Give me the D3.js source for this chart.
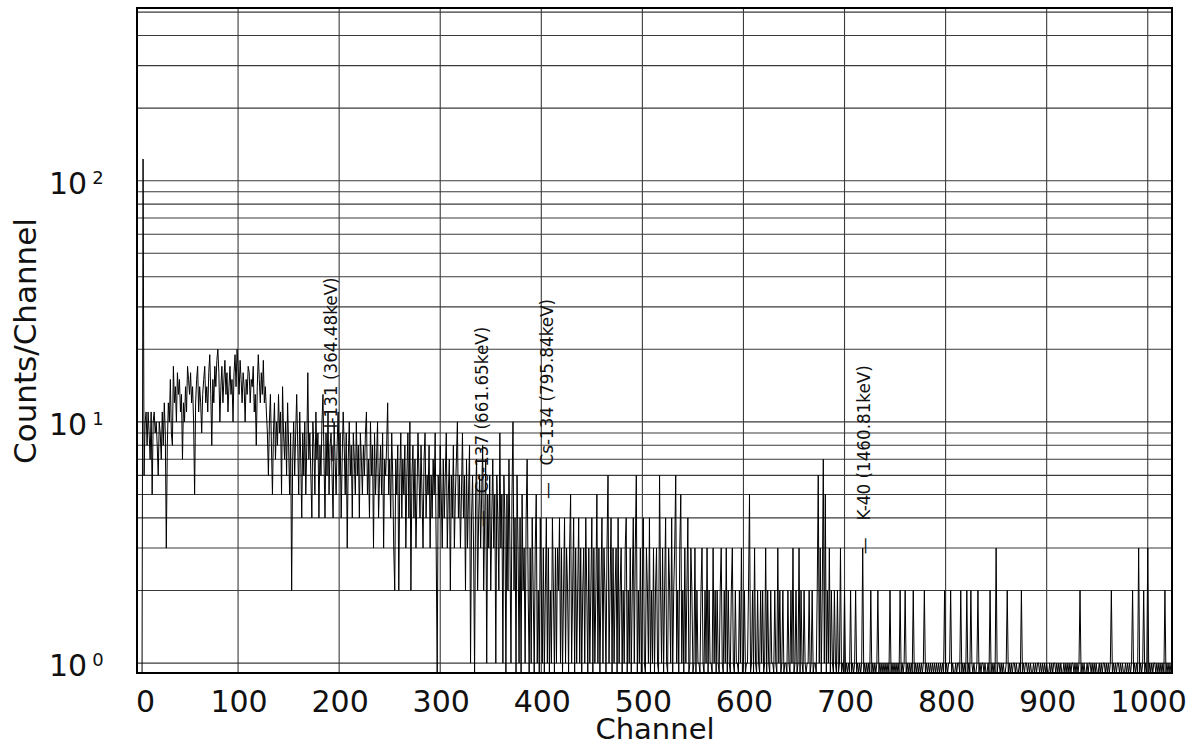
<!DOCTYPE html>
<html>
<head>
<meta charset="utf-8">
<script src="https://cdn.jsdelivr.net/npm/d3@7"></script>
<style>
  html, body { margin: 0; padding: 0; background: #fff; }
  svg { display: block; }
  text { font-family: "DejaVu Sans", Verdana, sans-serif; fill: #111; }
</style>
</head>
<body>
<svg id="chart" width="1200" height="746"></svg>
<script>
// Gamma spectrum: counts recorded in each of 1024 MCA channels.
const channelCounts = [
  0,0,0,0,0,0,123,6,10,11,8,11,9,7,11,5,10,11,9,10,8,6,10,9,7,11,8,12,9,3,8,12,
  10,15,9,8,17,12,14,10,16,13,15,11,13,7,12,10,14,11,17,15,13,16,12,14,10,5,12,15,17,11,14,12,
  9,13,15,17,12,14,11,16,19,13,8,15,12,17,14,18,20,16,10,14,17,12,15,18,13,16,11,14,17,13,15,10,
  16,19,14,20,17,13,18,15,12,16,14,10,15,13,17,16,12,15,14,17,11,13,8,14,19,15,12,16,13,18,12,14,
  11,9,6,10,13,8,5,9,12,7,10,8,13,9,11,5,14,9,7,10,6,12,8,5,9,2,7,10,6,9,13,8,
  5,11,7,4,9,6,10,5,8,16,7,9,6,4,10,8,5,11,7,9,4,8,6,10,13,7,4,9,6,11,5,8,
  9,6,4,10,7,5,8,11,6,9,4,7,11,8,5,9,3,7,10,6,8,4,9,7,5,10,6,8,4,9,7,5,
  8,6,9,11,5,7,4,10,6,8,3,9,5,7,10,4,6,8,5,9,3,7,6,8,12,5,7,4,9,6,3,2,
  7,5,8,2,6,9,4,7,5,8,3,6,9,4,10,2,6,8,4,7,3,5,9,6,4,8,5,3,7,9,4,6,
  5,8,3,6,4,7,5,9,3,0,6,4,8,5,3,7,4,6,9,3,5,7,2,6,4,8,3,5,7,10,4,6,
  3,5,9,4,6,2,7,3,5,8,1,4,6,3,0,5,7,2,4,6,3,5,8,2,4,7,1,5,3,6,2,4,
  7,3,5,1,6,4,2,9,3,5,1,6,4,0,5,2,7,3,1,5,10,2,4,0,6,3,1,4,0,5,2,3,
  1,4,7,2,0,3,1,4,2,0,3,5,1,2,0,4,2,1,3,0,2,4,1,3,0,2,1,4,2,0,3,1,
  3,2,4,1,3,0,2,4,1,3,2,0,3,5,1,2,4,0,3,1,2,4,1,3,0,2,3,1,4,2,0,3,
  1,2,4,0,3,1,2,5,1,3,0,2,4,1,3,2,0,3,6,1,2,4,0,3,1,2,3,0,4,1,2,3,
  0,2,1,3,4,0,2,1,3,0,2,4,1,3,6,0,2,1,3,0,2,4,1,0,3,2,1,4,0,2,1,3,
  0,2,3,1,0,6,2,1,3,0,2,4,1,0,3,2,1,4,0,2,3,6,1,2,0,3,5,1,2,0,3,1,
  2,4,0,1,3,2,0,1,3,0,2,1,1,0,2,3,1,0,2,1,3,0,2,1,1,0,3,1,2,0,2,1,
  0,2,3,1,0,2,1,3,0,2,1,0,2,3,1,0,2,1,1,0,2,1,3,0,1,2,0,1,1,2,5,0,
  1,2,0,3,1,0,2,1,0,2,1,2,0,1,3,0,2,1,0,2,1,1,0,2,1,0,3,1,2,0,1,2,
  0,1,1,0,2,1,0,2,1,3,0,1,2,0,1,3,0,2,1,0,2,1,0,1,1,2,0,1,2,0,1,1,
  0,2,6,1,3,0,2,7,1,5,0,2,1,3,0,2,1,0,2,1,0,2,0,1,3,0,1,0,2,0,1,0,
  1,0,2,0,1,0,1,2,0,1,0,1,0,1,3,0,1,0,1,0,1,0,2,0,1,0,1,0,1,2,0,1,
  0,1,0,1,0,1,0,1,0,2,0,1,0,1,0,1,0,1,0,2,0,1,0,1,2,0,1,0,1,0,1,0,
  2,0,1,0,1,0,1,0,1,0,1,2,0,1,0,1,0,1,0,1,0,1,0,1,0,1,0,1,0,1,0,2,
  0,1,0,1,1,2,0,1,0,0,1,0,1,1,0,2,0,1,0,1,0,2,0,1,0,2,1,0,1,0,0,1,
  2,0,1,0,1,1,0,1,0,0,1,0,2,0,1,0,1,0,3,0,1,1,0,1,0,1,0,0,1,2,0,1,
  0,1,0,1,1,0,1,0,0,1,0,2,0,1,0,1,1,0,1,0,1,0,0,1,0,1,0,1,1,0,1,0,
  1,0,1,0,1,0,0,1,0,1,0,1,1,0,1,0,1,0,1,0,0,1,0,1,0,1,0,1,0,1,1,0,
  1,0,1,0,1,2,0,1,0,1,0,0,1,0,1,1,0,1,0,1,0,1,0,0,1,0,1,0,1,1,0,1,
  0,1,0,1,2,0,1,0,1,0,1,1,0,1,0,1,0,0,1,0,1,0,1,0,1,2,0,1,0,1,0,3,
  0,1,0,1,2,0,1,0,3,0,1,0,1,0,1,1,0,1,0,1,0,1,0,1,0,2,0,1,0,1,0,1
];

// Axis ticks
const channelTicks = [0, 100, 200, 300, 400, 500, 600, 700, 800, 900, 1000];
const decadeTicks = [1, 10, 100];
const decadeExponents = ["0", "1", "2"];

// Identified peaks: label text, channel, and count level where the label starts
const peakLabels = ["I-131 (364.48keV)", "Cs-137 (661.65keV)", "Cs-134 (795.84keV)", "K-40 (1460.81keV)"];
const peakChannels = [193, 342, 407, 720];
const peakLabelFloor = [6.82, 3.67, 4.79, 2.83];

const svg = d3.select("#chart");
const W = 1200, H = 746;
const plot = { left: 137, right: 1172, top: 8, bottom: 673 };

const yMin = 0.91, yMax = 520;
const x = d3.scaleLinear().domain([0, 1024]).range([plot.left, plot.right]);
const y = d3.scaleLog().domain([yMin, yMax]).range([plot.bottom, plot.top]);

svg.append("rect").attr("width", W).attr("height", H).attr("fill", "#fff");

// Log grid: every integer multiple inside each decade
const gridValues = [];
decadeTicks.forEach(d => {
  for (let m = 1; m <= 9; m++) {
    const v = d * m;
    if (v <= yMax) gridValues.push(v);
  }
});

const grid = svg.append("g").attr("stroke", "#3a3a3a").attr("stroke-width", 1.1);
grid.selectAll("line.h").data(gridValues).join("line")
  .attr("class", "h")
  .attr("x1", plot.left).attr("x2", plot.right)
  .attr("y1", d => y(d)).attr("y2", d => y(d));
grid.selectAll("line.v").data(channelTicks).join("line")
  .attr("class", "v")
  .attr("x1", d => x(d)).attr("x2", d => x(d))
  .attr("y1", plot.top).attr("y2", plot.bottom);

// Spectrum trace (empty channels sit on the bottom of the log axis)
svg.append("clipPath").attr("id", "plotClip")
  .append("rect")
  .attr("x", plot.left).attr("y", plot.top)
  .attr("width", plot.right - plot.left).attr("height", plot.bottom - plot.top);

const trace = d3.line()
  .x((d, i) => x(i))
  .y(d => y(Math.max(d, yMin)));

svg.append("path")
  .datum(channelCounts)
  .attr("clip-path", "url(#plotClip)")
  .attr("fill", "none")
  .attr("stroke", "#000")
  .attr("stroke-width", 1)
  .attr("stroke-linejoin", "miter")
  .attr("d", trace);

// Frame
svg.append("rect")
  .attr("x", plot.left).attr("y", plot.top)
  .attr("width", plot.right - plot.left).attr("height", plot.bottom - plot.top)
  .attr("fill", "none").attr("stroke", "#000").attr("stroke-width", 2);

// X tick labels
svg.append("g").selectAll("text").data(channelTicks).join("text")
  .attr("x", d => d === 0 ? x(d) - 1 : x(d) + 1)
  .attr("y", 712)
  .attr("text-anchor", d => d === 0 ? "start" : "middle")
  .attr("font-size", 30)
  .text(d => d);

// Y tick labels: 10 with superscript exponent
const yLab = svg.append("g").selectAll("text").data(decadeTicks).join("text")
  .attr("x", 49)
  .attr("y", d => y(d) + 13)
  .attr("font-size", 30);
yLab.append("tspan").text("10");
yLab.append("tspan")
  .attr("dx", 5).attr("dy", -10)
  .attr("font-size", 18)
  .text((d, i) => decadeExponents[i]);

// Axis titles
svg.append("text")
  .attr("x", 655).attr("y", 739)
  .attr("text-anchor", "middle")
  .attr("font-size", 29)
  .text("Channel");

svg.append("text")
  .attr("transform", "translate(36,341) rotate(-90)")
  .attr("text-anchor", "middle")
  .attr("font-size", 31)
  .text("Counts/Channel");

// Peak identification labels, each led by a short marker dash
svg.append("g").selectAll("text").data(peakLabels).join("text")
  .attr("transform", (d, i) => `translate(${x(peakChannels[i]) + 5},${y(peakLabelFloor[i])}) rotate(-90)`)
  .attr("text-anchor", "start")
  .attr("font-size", 16.8)
  .text(d => "\u2014\u2003" + d);
</script>
</body>
</html>
